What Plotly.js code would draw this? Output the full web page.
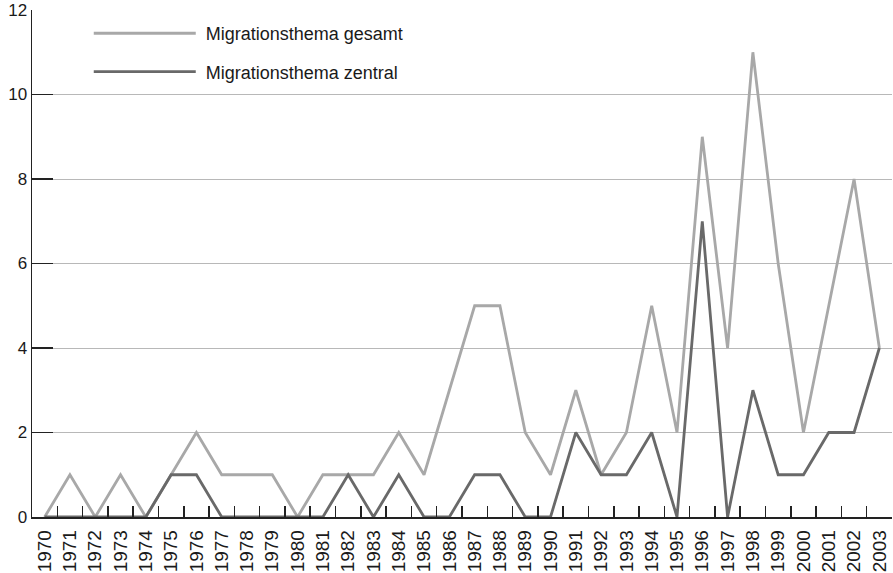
<!DOCTYPE html>
<html>
<head>
<meta charset="utf-8">
<script src="https://cdn.plot.ly/plotly-3.0.1.min.js"></script>
<style>html,body{margin:0;padding:0;background:#fff;}#chart{width:893px;height:573px;}</style>
</head>
<body>
<div id="chart"></div>
<script>
const years = ["1970","1971","1972","1973","1974","1975","1976","1977","1978","1979","1980","1981","1982","1983","1984","1985","1986","1987","1988","1989","1990","1991","1992","1993","1994","1995","1996","1997","1998","1999","2000","2001","2002","2003"];
const gesamt = [0,1,0,1,0,1,2,1,1,1,0,1,1,1,2,1,3,5,5,2,1,3,1,2,5,2,9,4,11,6,2,5,8,4];
const zentral = [0,0,0,0,0,1,1,0,0,0,0,0,1,0,1,0,0,1,1,0,0,2,1,1,2,0,7,0,3,1,1,2,2,4];
const yTicks = [0,2,4,6,8,10,12];
const seriesNames = ["Migrationsthema gesamt", "Migrationsthema zentral"];

const font = {family: "Liberation Sans, Arial, sans-serif", color: "#1a1a1a"};

const traces = [
  {x: years, y: gesamt, type: "scatter", mode: "lines", name: "\u00a0" + seriesNames[0],
   line: {color: "#a8a8a8", width: 2.8}, cliponaxis: false, legendgroup: "a"},
  {x: years, y: zentral, type: "scatter", mode: "lines", name: "\u00a0" + seriesNames[1],
   line: {color: "#696969", width: 2.8}, cliponaxis: false, legendgroup: "b"}
];

const layout = {
  width: 893, height: 573,
  margin: {l: 32, r: 1, t: 10, b: 56},
  paper_bgcolor: "#fff", plot_bgcolor: "#fff",
  font: Object.assign({size: 17}, font),
  showlegend: true,
  legend: {x: 0.066, y: 0.99, xanchor: "left", yanchor: "top", bgcolor: "rgba(0,0,0,0)",
           font: Object.assign({size: 18}, font), itemwidth: 102, traceorder: "grouped",
           tracegroupgap: 12},
  xaxis: {type: "category", range: [-0.5, 33.5], tickson: "boundaries", ticks: "inside", ticklen: 11,
          tickcolor: "#222", tickwidth: 1.5, showline: true, linecolor: "#222", linewidth: 1.5,
          showgrid: false, tickangle: -90, ticklabelstandoff: 4,
          tickfont: Object.assign({size: 19}, font), fixedrange: true},
  yaxis: {range: [0, 12], tickvals: yTicks, ticktext: yTicks.map(String), ticks: "inside", ticklen: 21,
          tickcolor: "#222", tickwidth: 1.5, showline: true, linecolor: "#222", linewidth: 1.5,
          showgrid: true, gridcolor: "#b8b8b8", gridwidth: 1, zeroline: false,
          ticklabelstandoff: 0, tickfont: Object.assign({size: 17}, font), fixedrange: true}
};

Plotly.newPlot("chart", traces, layout, {displayModeBar: false, staticPlot: true});
</script>
</body>
</html>
